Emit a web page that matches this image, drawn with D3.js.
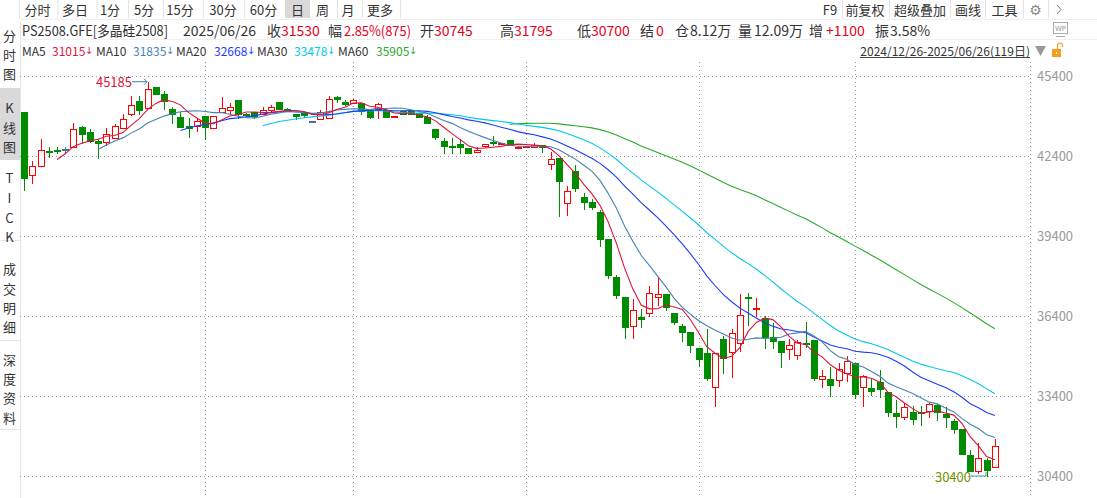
<!DOCTYPE html>
<html><head><meta charset="utf-8">
<script src="https://cdn.jsdelivr.net/npm/d3@7"></script>
<style>
html,body{margin:0;padding:0;background:#fff;overflow:hidden;}
svg{display:block;font-family:"Noto Sans CJK SC","Noto Sans",sans-serif;}
</style></head><body>
<svg id="c" width="1097" height="498"></svg>
<script>
// ---------------- data ----------------
const dates = [
"2024-12-26","2024-12-27","2024-12-30","2024-12-31",
"2025-01-02","2025-01-03","2025-01-06","2025-01-07","2025-01-08","2025-01-09","2025-01-10","2025-01-13","2025-01-14","2025-01-15","2025-01-16","2025-01-17","2025-01-20","2025-01-21","2025-01-22","2025-01-23","2025-01-24","2025-01-27",
"2025-02-05","2025-02-06","2025-02-07","2025-02-10","2025-02-11","2025-02-12","2025-02-13","2025-02-14","2025-02-17","2025-02-18","2025-02-19","2025-02-20","2025-02-21","2025-02-24","2025-02-25","2025-02-26","2025-02-27","2025-02-28",
"2025-03-03","2025-03-04","2025-03-05","2025-03-06","2025-03-07","2025-03-10","2025-03-11","2025-03-12","2025-03-13","2025-03-14","2025-03-17","2025-03-18","2025-03-19","2025-03-20","2025-03-21","2025-03-24","2025-03-25","2025-03-26","2025-03-27","2025-03-28","2025-03-31",
"2025-04-01","2025-04-02","2025-04-03","2025-04-07","2025-04-08","2025-04-09","2025-04-10","2025-04-11","2025-04-14","2025-04-15","2025-04-16","2025-04-17","2025-04-18","2025-04-21","2025-04-22","2025-04-23","2025-04-24","2025-04-25","2025-04-28","2025-04-29","2025-04-30",
"2025-05-06","2025-05-07","2025-05-08","2025-05-09","2025-05-12","2025-05-13","2025-05-14","2025-05-15","2025-05-16","2025-05-19","2025-05-20","2025-05-21","2025-05-22","2025-05-23","2025-05-26","2025-05-27","2025-05-28","2025-05-29","2025-05-30",
"2025-06-03","2025-06-04","2025-06-05","2025-06-06","2025-06-09","2025-06-10","2025-06-11","2025-06-12","2025-06-13","2025-06-16","2025-06-17","2025-06-18","2025-06-19","2025-06-20","2025-06-23","2025-06-24","2025-06-25","2025-06-26"
];
const openP = [44060,41690,42025,42580,42620,42650,42740,43475,43290,42975,42925,43065,43440,43965,44465,44190,44990,44735,44150,43850,43535,43535,43890,43440,44040,44115,44500,43990,44040,43965,
44135,44415,44165,43975,44000,43700,43775,43815,44625,44425,44400,44375,44100,44175,44125,43880,44075,44075,44000,43850,43415,42965,42775,42850,42690,42540,42790,42925,42840,43000,
42690,42725,42750,42825,42090,42325,40625,41840,40875,40690,40300,39290,37850,37115,36015,36365,36500,37125,37225,36525,36025,35800,35190,35025,33725,35550,35040,35375,37100,36665,
36315,35600,35475,35150,34940,35400,35500,34040,34025,34000,34250,34625,33725,33715,33935,33560,32775,32600,32810,32790,32840,33065,32715,32465,32165,31190,30600,31000,30745];
const highP = [44060,42215,43040,42725,42725,42725,43650,43535,43400,43025,43440,43600,43965,44650,44660,45185,44990,44840,44240,44060,43815,43815,43890,43910,44600,44400,44500,44000,44040,44250,
44315,44415,44200,43975,44000,43700,44125,44650,44650,44500,44525,44375,44100,44375,44190,43900,44075,44075,44000,43940,43415,43065,43065,43025,42690,42725,42840,43150,42900,43000,
42780,42790,42900,42825,42560,42325,41275,42065,41000,40775,40375,39290,37940,37115,37025,36650,37535,37835,37225,36525,36100,35800,35190,35900,35000,35650,35900,37225,37250,37065,
36400,36125,35475,35525,35500,36165,35500,34375,34475,34625,34900,34625,34190,34025,34375,33560,33250,33125,33025,33025,33150,33100,32975,32525,32165,31375,31625,31065,31795];
const lowP = [41125,41340,42025,42350,42500,42525,42720,42875,42935,42335,42785,43065,43440,43900,43965,44190,44715,44150,43625,43500,43125,43290,43025,43440,44040,43965,43840,43900,43840,43965,
44060,44150,44100,43775,43875,43700,43775,43815,44435,44315,44350,43965,43815,43775,43875,43880,43975,43965,43875,43650,43025,42525,42500,42525,42525,42500,42690,42815,42815,42815,
42660,42700,42750,42560,41875,40150,40150,41090,40415,40425,39035,37835,37085,35590,35550,36000,36375,36785,36625,36100,35475,35060,34525,34000,32975,34250,34065,35060,36065,36375,
35190,35190,34475,34750,34750,35250,34000,33690,33410,33725,33935,33315,33000,33440,33375,32650,32250,32500,32350,32310,32585,32500,32250,32025,31215,30600,30465,30400,30700];
const closeP = [41585,42025,42615,42540,42580,42650,43415,43215,42975,42875,43235,43535,43775,44325,44125,44925,44715,44475,43975,43500,43460,43715,43475,43910,44190,44225,43965,43950,43915,44115,
44240,44150,44125,43900,43925,43700,44040,44525,44525,44360,44490,44090,43850,44340,43875,43900,43975,43965,43875,43650,43125,42785,42750,42750,42525,42625,42840,42915,42900,42815,
42750,42785,42825,42725,42275,41475,41075,41210,40690,40500,39275,37950,37200,36000,36615,36275,37250,37225,36750,36190,35815,35315,34800,34075,35000,34815,35750,36425,37080,36715,
35625,35475,35060,35300,35435,35375,34065,34160,33815,34400,34725,33465,34150,33600,33650,32810,32660,32975,32535,32765,33090,32810,32600,32150,31215,30600,31065,30625,31530];

const yTicks = [45400, 42400, 39400, 36400, 33400, 30400];
const monthStarts = ["2025-02-05","2025-03-03","2025-04-01","2025-05-06","2025-06-03"];
const maPeriods = [5, 10, 20, 30, 60];
const maColors = ["#dc143c", "#4682b4", "#1a3cff", "#00c8e8", "#2aaa2a"];
const maValues = ["31015", "31835", "32668", "33478", "35905"];

const tabs = ["分时","多日","1分","5分","15分","30分","60分","日","周","月","更多"];
const rightTools = ["F9","前复权","超级叠加","画线","工具"];
const sideLabels = [["分","时","图"],["K","线","图"],["T","I","C","K"],["成","交","明","细"],["深","度","资","料"]];

const infoItems = [
  ["PS2508.GFE[多晶硅2508]", 0], ["2025/06/26", 0], ["收", 0], ["31530", 1], ["幅", 0], ["2.85%(875)", 1],
  ["开", 0], ["30745", 1], ["高", 0], ["31795", 1], ["低", 0], ["30700", 1], ["结", 0], ["0", 1],
  ["仓", 0], ["8.12万", 0], ["量", 0], ["12.09万", 0], ["增", 0], ["+1100", 1], ["振", 0], ["3.58%", 0]
];
const rangeText = "2024/12/26-2025/06/26(119日)";

// ---------------- layout ----------------
const W = 1097, H = 498;
const plotL = 20, plotR = 1030, plotT = 62;
const RED = "#ff0000", GREEN = "#008c00", FLAT = "#4a6f94", TXT = "#333";
const svg = d3.select("#c");

const x = d3.scaleBand().domain(dates).range([20, 999]).padding(0);
const y = d3.scaleLinear().domain([30400, 45400]).range([476, 76]);
const cx = d => Math.round(x(d) + x.bandwidth() / 2);
const ry = v => Math.round(y(v));

// ---------- left sidebar ----------
const side = svg.append("g");
side.append("rect").attr("x", 0).attr("y", 88).attr("width", 20).attr("height", 72).attr("fill", "#d9d9d9");
side.append("line").attr("x1", 20.5).attr("x2", 20.5).attr("y1", 22).attr("y2", H).attr("stroke", "#e2e2e2");
[240, 340, 429].forEach(v => side.append("line").attr("x1", 0).attr("x2", 20).attr("y1", v + 0.5).attr("y2", v + 0.5).attr("stroke", "#e6e6e6"));
const sideY = [[35, 54, 73], [107, 127, 146], [177, 197, 217, 236], [268, 288, 307, 326], [359, 378, 397, 417]];
sideLabels.forEach((grp, gi) => grp.forEach((ch, k) => {
  side.append("text").attr("x", 9.5).attr("y", sideY[gi][k]).attr("text-anchor", "middle")
    .attr("dominant-baseline", "central").attr("font-size", 13).attr("fill", TXT).text(ch);
}));

// ---------- top toolbar ----------
const tb = svg.append("g");
const tabCenters = [37.5, 75, 110, 144, 180, 223, 263.5, 297.5, 322.5, 348, 380];
const tabSeps = [19, 57.5, 96.5, 128, 163, 203, 244, 337, 362, 400];
tb.append("rect").attr("x", 285).attr("y", 0).attr("width", 25).attr("height", 18).attr("fill", "#d9d9d9");
tabSeps.forEach(s => tb.append("line").attr("x1", s + 0.5).attr("x2", s + 0.5).attr("y1", 0).attr("y2", 18).attr("stroke", "#e4e4e4"));
tabs.forEach((t, i) => tb.append("text").attr("x", tabCenters[i]).attr("y", 9.5).attr("text-anchor", "middle")
  .attr("dominant-baseline", "central").attr("font-size", 13).attr("fill", TXT).text(t));
const rtCenters = [830, 865, 920, 968, 1004.5];
[842, 889, 950, 985, 1023, 1048].forEach(s => tb.append("line").attr("x1", s + 0.5).attr("x2", s + 0.5).attr("y1", 0).attr("y2", 18).attr("stroke", "#e4e4e4"));
rightTools.forEach((t, i) => tb.append("text").attr("x", rtCenters[i]).attr("y", 9.5).attr("text-anchor", "middle")
  .attr("dominant-baseline", "central").attr("font-size", 13).attr("fill", TXT).text(t));
tb.append("text").attr("x", 1035.5).attr("y", 9.5).attr("text-anchor", "middle").attr("dominant-baseline", "central")
  .attr("font-family", "DejaVu Sans").attr("font-size", 14).attr("fill", "#888").text("⚙");
tb.append("path").attr("d", "M1057,5 L1061,9.5 L1057,14").attr("fill", "none").attr("stroke", "#777").attr("stroke-width", 1);
svg.append("line").attr("x1", 20).attr("x2", W).attr("y1", 19.5).attr("y2", 19.5).attr("stroke", "#eeeeee");

// ---------- info row ----------
const infoX = [22, 183, 267, 281, 328, 344, 420, 434, 500, 514, 577, 591, 640, 656, 675, 690, 738, 754, 809, 826, 875, 890];
const infoLen = {0: 146, 5: 67};
infoItems.forEach((d, i) => {
  const t = svg.append("text").attr("x", infoX[i]).attr("y", 30).attr("dominant-baseline", "central")
    .attr("font-size", 14).attr("fill", d[1] ? "#e8001c" : TXT).text(d[0]);
  if (infoLen[i]) t.attr("textLength", infoLen[i]).attr("lengthAdjust", "spacingAndGlyphs");
});
// WP icon
svg.append("rect").attr("x", 1053.5).attr("y", 22.5).attr("width", 14).attr("height", 11).attr("fill", "none").attr("stroke", "#aaa");
svg.append("text").attr("x", 1060.5).attr("y", 28.5).attr("text-anchor", "middle").attr("dominant-baseline", "central")
  .attr("font-size", 7).attr("font-family", "DejaVu Sans").attr("fill", "#999").text("WP");
svg.append("line").attr("x1", 1056).attr("x2", 1065).attr("y1", 36.5).attr("y2", 36.5).attr("stroke", "#aaa");
svg.append("line").attr("x1", 20).attr("x2", W).attr("y1", 39.5).attr("y2", 39.5).attr("stroke", "#f0f0f0");

// ---------- MA legend row ----------
const maNameX = [22, 96, 176, 257, 338];
const maValX = [52, 133, 214, 294, 376];
maPeriods.forEach((p, i) => {
  svg.append("text").attr("x", maNameX[i]).attr("y", 50).attr("dominant-baseline", "central").attr("font-size", 12).attr("fill", TXT).text("MA" + p);
  const t = svg.append("text").attr("x", maValX[i]).attr("y", 50).attr("dominant-baseline", "central").attr("font-size", 12).attr("fill", maColors[i]);
  t.append("tspan").text(maValues[i]);
  t.append("tspan").attr("font-family", "DejaVu Sans").attr("font-size", 10).attr("dx", -0.5).text("↓");
});
// date range
svg.append("text").attr("x", 1030).attr("y", 50).attr("text-anchor", "end").attr("dominant-baseline", "central")
  .attr("font-size", 12).attr("fill", TXT).text(rangeText);
svg.append("line").attr("x1", 860).attr("x2", 1030).attr("y1", 57.5).attr("y2", 57.5).attr("stroke", "#444");
svg.append("path").attr("d", "M1035,46 L1046,46 L1040.5,56 Z").attr("fill", "#999");
svg.append("rect").attr("x", 1052).attr("y", 49).attr("width", 9).attr("height", 8).attr("fill", "#f0a020");
svg.append("path").attr("d", "M1057.5,49 L1057.5,45.5 A2.5,2.5 0 0 1 1062.5,45.5 L1062.5,47").attr("fill", "none").attr("stroke", "#f0a020").attr("stroke-width", 1.2);
svg.append("rect").attr("x", 1056).attr("y", 52).attr("width", 1).attr("height", 2).attr("fill", "#fff");

// ---------- grid ----------
const grid = svg.append("g").attr("stroke", "#9a9a9a").attr("stroke-dasharray", "1,3");
yTicks.forEach(v => grid.append("line").attr("x1", plotL).attr("x2", plotR).attr("y1", ry(v) + 0.5).attr("y2", ry(v) + 0.5));
monthStarts.forEach(d => grid.append("line").attr("x1", cx(d) + 0.5).attr("x2", cx(d) + 0.5).attr("y1", plotT).attr("y2", H));
grid.append("line").attr("x1", plotR + 0.5).attr("x2", plotR + 0.5).attr("y1", plotT).attr("y2", H);

// ---------- right axis ----------
const axis = svg.append("g").attr("transform", `translate(${plotR},0)`)
  .call(d3.axisRight(y).tickValues(yTicks).tickSize(0).tickPadding(7).tickFormat(d3.format("d")));
axis.select(".domain").remove();
axis.selectAll("text").attr("font-size", 13).attr("fill", "#9a9a9a").attr("font-family", "\"Noto Sans CJK SC\",\"Noto Sans\",sans-serif");

// ---------- candles ----------
const candles = dates.map((d, i) => ({ d, o: openP[i], h: highP[i], l: lowP[i], c: closeP[i] }));
const cg = svg.append("g").attr("shape-rendering", "crispEdges");
candles.forEach(k => {
  const X = cx(k.d);
  const top = ry(Math.max(k.o, k.c)), bot = ry(Math.min(k.o, k.c));
  const yh = ry(k.h), yl = ry(k.l);
  if (k.c > k.o) {
    if (yh < top) cg.append("line").attr("x1", X + 0.5).attr("x2", X + 0.5).attr("y1", yh).attr("y2", top).attr("stroke", RED);
    if (yl > bot) cg.append("line").attr("x1", X + 0.5).attr("x2", X + 0.5).attr("y1", bot).attr("y2", yl).attr("stroke", RED);
    cg.append("rect").attr("x", X - 2.5).attr("y", top + 0.5).attr("width", 6).attr("height", Math.max(1, bot - top))
      .attr("fill", "#fff").attr("stroke", RED).attr("stroke-width", 1);
  } else if (k.c < k.o) {
    cg.append("line").attr("x1", X + 0.5).attr("x2", X + 0.5).attr("y1", yh).attr("y2", yl + 1).attr("stroke", GREEN);
    cg.append("rect").attr("x", X - 3).attr("y", top).attr("width", 7).attr("height", Math.max(1, bot - top) + 1).attr("fill", GREEN);
  } else {
    cg.append("line").attr("x1", X + 0.5).attr("x2", X + 0.5).attr("y1", yh).attr("y2", yl + 1).attr("stroke", FLAT);
    cg.append("rect").attr("x", X - 3).attr("y", top).attr("width", 7).attr("height", 2).attr("fill", FLAT);
  }
});

// ---------- moving averages ----------
function movingAvg(n) {
  const out = [];
  for (let i = n - 1; i < closeP.length; i++) {
    out.push({ d: dates[i], v: d3.mean(closeP.slice(i - n + 1, i + 1)) });
  }
  return out;
}
const line = d3.line().x(p => x(p.d) + x.bandwidth() / 2).y(p => y(p.v));
maPeriods.slice().reverse().forEach((p, ri) => {
  const i = maPeriods.length - 1 - ri;
  svg.append("path").datum(movingAvg(p)).attr("d", line).attr("fill", "none")
    .attr("stroke", maColors[i]).attr("stroke-width", 1.1);
});

// ---------- high / low markers ----------
const hiIdx = d3.maxIndex(highP), loIdx = d3.minIndex(lowP);
const hx = cx(dates[hiIdx]), hy = y(highP[hiIdx]);
svg.append("text").attr("x", hx - 16).attr("y", hy).attr("text-anchor", "end").attr("dominant-baseline", "central")
  .attr("font-size", 13).attr("fill", "#e0143c").text(d3.format("d")(highP[hiIdx]));
svg.append("path").attr("d", `M${hx - 16},${hy} L${hx - 1},${hy} M${hx - 4},${hy - 3} L${hx - 1},${hy} L${hx - 4},${hy + 3}`)
  .attr("fill", "none").attr("stroke", "#3a86a8");
const lx = cx(dates[loIdx]), ly = y(lowP[loIdx]);
svg.append("text").attr("x", lx - 16).attr("y", ly).attr("text-anchor", "end").attr("dominant-baseline", "central")
  .attr("font-size", 13).attr("fill", "#6f9400").text(d3.format("d")(lowP[loIdx]));
svg.append("path").attr("d", `M${lx - 16},${ly} L${lx - 1},${ly} L${lx - 1},${ly - 4}`)
  .attr("fill", "none").attr("stroke", "#3a9ab0");
</script>
</body></html>
